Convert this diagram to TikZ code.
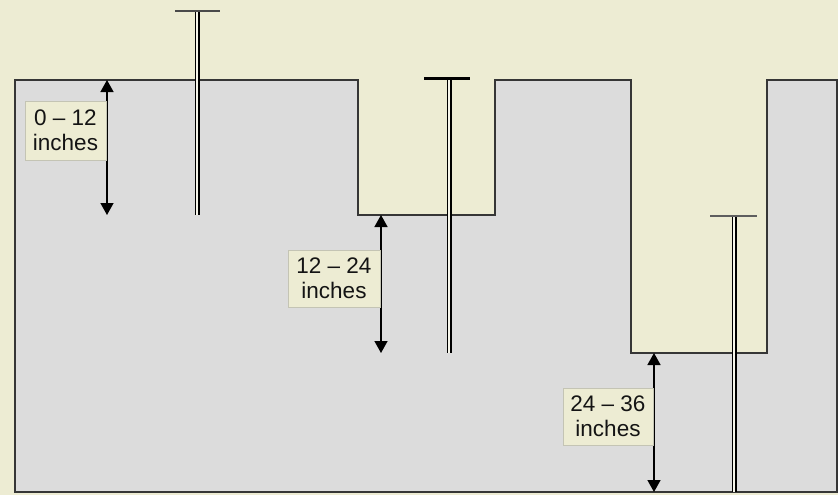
\documentclass[tikz,border=0pt]{standalone}
\usepackage{fontspec}
\setmainfont{Liberation Sans}
\usetikzlibrary{arrows.meta}
\definecolor{cream}{HTML}{EDECD3}
\definecolor{soil}{HTML}{DCDCDC}
\definecolor{edge}{HTML}{363636}
\definecolor{tagedge}{HTML}{C4C4B4}
\begin{document}
\begin{tikzpicture}[x=1pt,y=-1pt,
  ground/.style={fill=soil,draw=edge,line width=2pt,line join=miter},
  stake/.style={draw=black,line width=1.2pt,double=white!55!cream,double distance=2.6pt},
  depth/.style={line width=1.5pt,{Triangle[width=13pt,length=12pt]}-{Triangle[width=13pt,length=12pt]}},
  tag/.style={fill=cream,draw=tagedge,line width=1pt,align=center,inner sep=0pt,
    minimum height=57pt,text=black!92,font=\fontsize{22.5}{25.5}\selectfont}]
  % background
  \fill[cream] (0,0) rectangle (838,495);
  \useasboundingbox (0,0) rectangle (838,495);
  % stepped soil profile
  \draw[ground] (15,80) -- (358,80) -- (358,215) -- (495,215) -- (495,80)
    -- (631,80) -- (631,353) -- (767,353) -- (767,80) -- (837,80)
    -- (837,492) -- (15,492) -- cycle;
  % stakes
  \draw[stake] (197,12) -- (197,215);
  \draw[edge!90,line width=2.4pt] (175,11) -- (220,11);
  \draw[stake] (449,80) -- (449,353);
  \draw[black,line width=3pt] (424,79) -- (470,79);
  \draw[stake] (734,217) -- (734,492);
  \draw[edge!80,line width=2pt] (710,216) -- (757,216);
  % depth markers
  \coordinate (a1) at (107,80);  \coordinate (b1) at (107,215);
  \coordinate (a2) at (381,215); \coordinate (b2) at (381,353);
  \coordinate (a3) at (654,353); \coordinate (b3) at (654,492);
  \draw[depth] (a1) -- (b1);
  \draw[depth] (a2) -- (b2);
  \draw[depth] (a3) -- (b3);
  \node[tag,minimum width=81pt,minimum height=59pt] (t1) at (65.5,130.5) {0 – 12\\inches};
  \node[tag,minimum width=92pt] (t2) at (334,278.5) {12 – 24\\inches};
  \node[tag,minimum width=90pt] (t3) at (608,416.5) {24 – 36\\inches};
\end{tikzpicture}
\end{document}
